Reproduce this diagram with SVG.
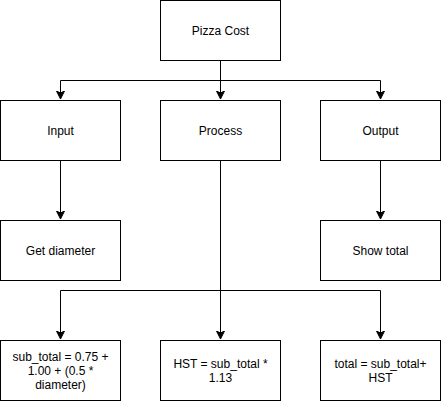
<svg xmlns="http://www.w3.org/2000/svg" width="441" height="401" viewBox="0 0 441 401">
<style>
rect{fill:#fff;stroke:#000;stroke-width:1}
text{font-family:"Liberation Sans",Arial,sans-serif;font-size:12px;fill:#000;text-anchor:middle}
.c{fill:none;stroke:#000;stroke-width:1}
</style>
<defs>
<marker id="a" markerWidth="10" markerHeight="10" refX="8" refY="5" orient="auto" markerUnits="userSpaceOnUse" viewBox="0 0 10 10">
<path d="M0,1 L8,5 L0,9 L2,5 Z" fill="#000" stroke="#000" stroke-width="1"/>
</marker>
</defs>
<rect x="0" y="0" width="441" height="401" style="fill:#fff;stroke:none"/>
<g id="connectors">
<path class="c" d="M220.5,60.5 V80.5 H60.5 V99" marker-end="url(#a)"/>
<path class="c" d="M220.5,60.5 V99" marker-end="url(#a)"/>
<path class="c" d="M220.5,80.5 H380.5 V99" marker-end="url(#a)"/>
<path class="c" d="M60.5,160.5 V219" marker-end="url(#a)"/>
<path class="c" d="M380.5,160.5 V219" marker-end="url(#a)"/>
<path class="c" d="M220.5,160.5 V339" marker-end="url(#a)"/>
<path class="c" d="M220.5,290.5 H60.5 V339" marker-end="url(#a)"/>
<path class="c" d="M220.5,290.5 H380.5 V339" marker-end="url(#a)"/>
</g>
<g id="pizza-cost"><rect x="160.5" y="0.5" width="120" height="60"/><text x="220.5" y="34.5">Pizza Cost</text></g>
<g id="input"><rect x="0.5" y="100.5" width="120" height="60"/><text x="60.5" y="134.5">Input</text></g>
<g id="process"><rect x="160.5" y="100.5" width="120" height="60"/><text x="220.5" y="134.5">Process</text></g>
<g id="output"><rect x="320.5" y="100.5" width="120" height="60"/><text x="380.5" y="134.5">Output</text></g>
<g id="get-diameter"><rect x="0.5" y="220.5" width="120" height="60"/><text x="60.5" y="254.5">Get diameter</text></g>
<g id="show-total"><rect x="320.5" y="220.5" width="120" height="60"/><text x="380.5" y="254.5">Show total</text></g>
<g id="sub-total"><rect x="0.5" y="340.5" width="120" height="60"/><text x="60.5" y="360.5">sub_total = 0.75 +</text><text x="60.5" y="374.5">1.00 + (0.5 *</text><text x="60.5" y="388.5">diameter)</text></g>
<g id="hst"><rect x="160.5" y="340.5" width="120" height="60"/><text x="220.5" y="367.5">HST = sub_total *</text><text x="220.5" y="381.5">1.13</text></g>
<g id="total"><rect x="320.5" y="340.5" width="120" height="60"/><text x="380.5" y="367.5">total = sub_total+</text><text x="380.5" y="381.5">HST</text></g>
</svg>
